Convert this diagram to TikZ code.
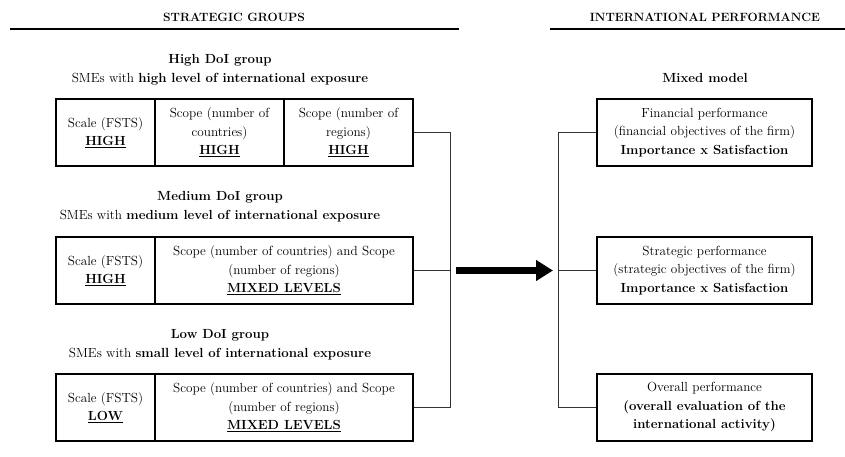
\documentclass[tikz,border=0pt]{standalone}
\usepackage{fontspec}
\usetikzlibrary{arrows.meta,calc}
\begin{document}
\begin{tikzpicture}[x=1pt,y=-1pt,
  txt/.style={font=\fontsize{13.2}{18.5}\selectfont, align=center, inner sep=0pt},
  head/.style={font=\fontsize{12}{14}\selectfont\bfseries, inner sep=0pt},
  cell/.style={draw, line width=1.3pt, minimum height=67pt, inner sep=0pt, align=center,
     font=\fontsize{13.2}{18.5}\selectfont},
  conn/.style={draw=black!80, line width=0.9pt},
  rule/.style={line width=1.2pt}]
\useasboundingbox (0,0) rectangle (845,457);

% headers
\node[head] (hl) at (234,17) {STRATEGIC GROUPS};
\node[head] (hr) at (705,17) {INTERNATIONAL PERFORMANCE};
\coordinate (rl1) at (10,29); \coordinate (rl2) at (459,29);
\coordinate (rr1) at (550,29); \coordinate (rr2) at (845,29);
\draw[rule] (rl1) -- (rl2);
\draw[rule] (rr1) -- (rr2);

% group titles
\node[txt] (t1) at (220,69.5) {\textbf{High DoI group}\\SMEs with \textbf{high level of international exposure}};
\node[txt] (t2) at (220,206.5) {\textbf{Medium DoI group}\\SMEs with \textbf{medium level of international exposure}};
\node[txt] (t3) at (220,344.5) {\textbf{Low DoI group}\\SMEs with \textbf{small level of international exposure}};
\node[txt] (t4) at (705,78) {\textbf{Mixed model}};

% high box
\node[cell, minimum width=99pt] (h1) at (105.5,132.5) {Scale (FSTS)\\\underline{\textbf{HIGH}}};
\node[cell, minimum width=129pt] (h2) at (219.5,132.5) {Scope (number of\\countries)\\\underline{\textbf{HIGH}}};
\node[cell, minimum width=129pt] (h3) at (348.5,132.5) {Scope (number of\\regions)\\\underline{\textbf{HIGH}}};

% medium box
\node[cell, minimum width=99pt] (m1) at (105.5,270.5) {Scale (FSTS)\\\underline{\textbf{HIGH}}};
\node[cell, minimum width=258pt] (m2) at (284,270.5) {Scope (number of countries) and Scope\\(number of regions)\\\underline{\textbf{MIXED LEVELS}}};

% low box
\node[cell, minimum width=99pt] (l1) at (105.5,407.5) {Scale (FSTS)\\\underline{\textbf{LOW}}};
\node[cell, minimum width=258pt] (l2) at (284,407.5) {Scope (number of countries) and Scope\\(number of regions)\\\underline{\textbf{MIXED LEVELS}}};

% right boxes
\node[cell, minimum width=215pt] (f) at (704.5,132.5) {Financial performance\\(financial objectives of the firm)\\\textbf{Importance x Satisfaction}};
\node[cell, minimum width=215pt] (s) at (704.5,270.5) {Strategic performance\\(strategic objectives of the firm)\\\textbf{Importance x Satisfaction}};
\node[cell, minimum width=215pt] (o) at (704.5,407.5) {Overall performance\\\textbf{(overall evaluation of the}\\\textbf{international activity)}};

% left connector
\coordinate (jt) at (450,132.5);
\coordinate (jb) at (450,407.5);
\draw[conn] (h3.east) -- (jt) -- (jb) -- (l2.east);
\draw[conn] (m2.east) -- (m2.east -| jt);

% right connector
\coordinate (rt) at (558,132.5);
\coordinate (rb) at (558,407.5);
\draw[conn] (f.west) -- (rt) -- (rb) -- (o.west);
\draw[conn] (s.west) -- (s.west -| rt);

% big arrow
\coordinate (a1) at (456,270.5);
\coordinate (a2) at (553,270.5);
\draw[line width=7pt, -{Triangle[length=17pt,width=20pt]}] (a1) -- (a2);
\end{tikzpicture}
\end{document}
